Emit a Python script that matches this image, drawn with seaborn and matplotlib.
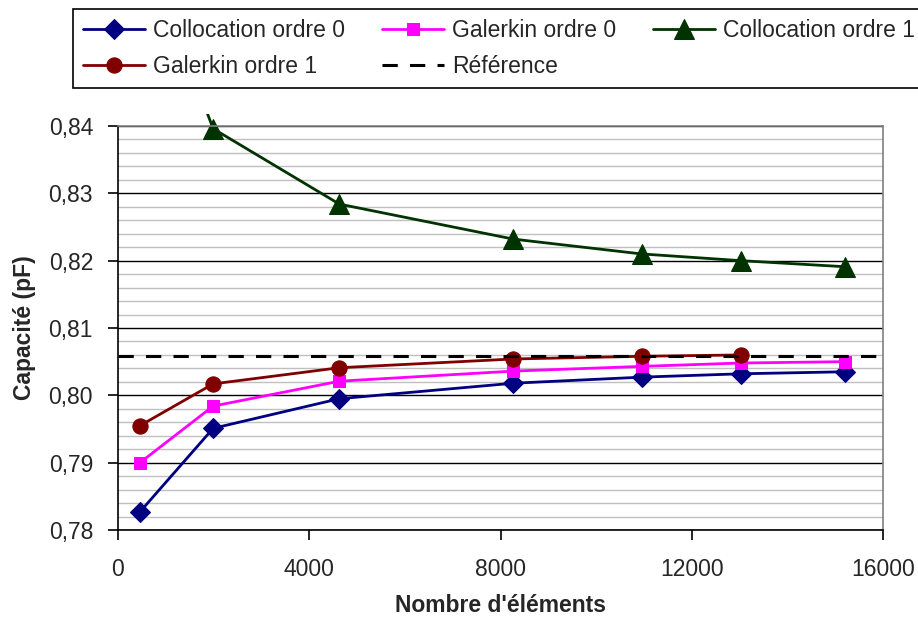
import pandas as pd
import matplotlib
matplotlib.use("Agg")
import matplotlib.pyplot as plt
import matplotlib.ticker as mticker
from matplotlib.patches import Rectangle
import seaborn as sns

# values
nb_elements = [460, 1990, 4630, 8270, 10950, 13030, 15200]
colloc_0 = [0.7827, 0.7951, 0.7995, 0.8018, 0.8027, 0.8032, 0.8035]
galerkin_0 = [0.7900, 0.7984, 0.8021, 0.8036, 0.8043, 0.8048, 0.8050]
colloc_1 = [0.8683, 0.8396, 0.8284, 0.8232, 0.8210, 0.8200, 0.8191]
galerkin_1 = [0.7955, 0.8017, 0.8041, 0.8054, 0.8058, 0.8060]
reference = 0.8059

series = [
    ("Collocation ordre 0", nb_elements, colloc_0, "#000080", "D", 10),
    ("Galerkin ordre 0", nb_elements, galerkin_0, "#FF00FF", "s", 8.5),
    ("Collocation ordre 1", nb_elements, colloc_1, "#003300", "^", 14),
    ("Galerkin ordre 1", nb_elements[:len(galerkin_1)], galerkin_1, "#800000", "o", 11),
]

sns.set_style("white")
plt.rcParams['font.family'] = ['Liberation Sans', 'DejaVu Sans']

fig, ax = plt.subplots(figsize=(9.18, 6.17), dpi=100)
fig.subplots_adjust(left=118/918, right=883/918, bottom=1-530/617, top=1-126/617)

for name, xs, ys, col, mk, ms in series:
    df = pd.DataFrame({"x": xs, "y": ys})
    sns.lineplot(data=df, x="x", y="y", ax=ax, color=col, marker=mk, markersize=ms,
                 markeredgecolor=col, markerfacecolor=col, linewidth=2, label=name,
                 sort=False, estimator=None)

# excel lets the first green segment poke a little above the plot area
ax.lines[2].set_clip_path(Rectangle((0, 0), 1, 1.03, transform=ax.transAxes))

ax.axhline(reference, color="black", linewidth=2.2, dashes=(5, 4), label="Référence")

ax.set_xlim(0, 16000)
ax.set_ylim(0.78, 0.84)
ax.xaxis.set_major_locator(mticker.MultipleLocator(4000))
ax.yaxis.set_major_locator(mticker.MultipleLocator(0.01))
ax.yaxis.set_minor_locator(mticker.MultipleLocator(0.002))
ax.yaxis.set_major_formatter(mticker.FuncFormatter(lambda v, p: f"{v:.2f}".replace('.', ',')))

# excel style grid : black major lines, light grey minor ones
ax.grid(axis='y', which='major', color='black', linewidth=1, zorder=0)
ax.grid(axis='y', which='minor', color='#c0c0c0', linewidth=1, zorder=0)
ax.set_axisbelow(True)

for side in ['left', 'bottom']:
    ax.spines[side].set_color('black')
    ax.spines[side].set_linewidth(1.2)
for side in ['top', 'right']:
    ax.spines[side].set_color('#808080')
    ax.spines[side].set_linewidth(1.2)

ax.tick_params(axis='both', which='major', direction='out', length=7, width=1.2,
               color='black', labelsize=16.5, left=True, bottom=True)
ax.tick_params(axis='y', which='major', pad=11)
ax.tick_params(axis='x', which='major', pad=13)
ax.tick_params(axis='y', which='minor', length=0)

ax.set_xlabel("Nombre d'éléments", fontsize=16.5, fontweight='bold')
ax.set_ylabel("Capacité (pF)", fontsize=16.5, fontweight='bold')
ax.xaxis.set_label_coords(0.5, -0.158)
ax.yaxis.set_label_coords(-0.107, 0.5)

handles, labels = ax.get_legend_handles_labels()
ax.get_legend().remove()
order = [0, 3, 1, 4, 2]  # legend fills by column
leg = fig.legend([handles[i] for i in order], [labels[i] for i in order],
                 loc='upper left', bbox_to_anchor=(73/918, 0, 852/918, 1-9/617),
                 mode='expand', ncol=3,
                 fontsize=16.5, frameon=True, fancybox=False, framealpha=1,
                 edgecolor='black', borderaxespad=0, borderpad=0.45,
                 handlelength=2.7, handletextpad=0.35, columnspacing=1.0,
                 labelspacing=0.55)
leg.get_frame().set_linewidth(1.2)

plt.savefig("out.png", dpi=100)
